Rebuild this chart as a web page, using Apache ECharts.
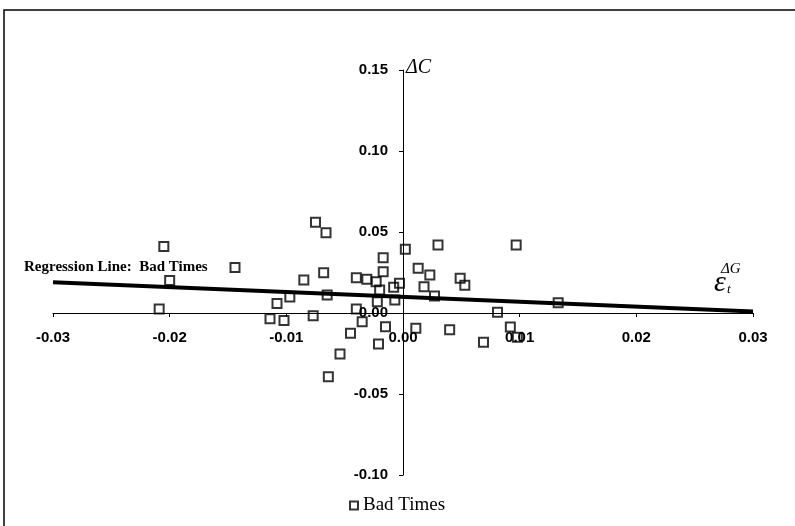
<!DOCTYPE html>
<html>
<head>
<meta charset="utf-8">
<script src="https://cdn.jsdelivr.net/npm/echarts@6/dist/echarts.min.js"></script>
<style>
  html, body { margin: 0; padding: 0; background: #fff; }
  #main { width: 795px; height: 526px; }
</style>
</head>
<body>
<div id="main"></div>
<script>
// scatter points
var xVals = [-0.0205, -0.0144, -0.0200, -0.0209, -0.0108, -0.0114, -0.0102, -0.0097,
  0.0081, 0.0092, 0.0098, 0.0097, 0.0133, 0.0069, 0.0040, 0.0049, 0.0053,
  -0.0075, -0.0066, 0.0002, 0.0030, -0.0017, -0.0017, -0.0068, -0.0085, -0.0040,
  -0.0031, -0.0023, -0.0020, -0.0008, -0.0003, 0.0013, 0.0023, 0.0018, 0.0027,
  -0.0065, -0.0077, -0.0022, -0.0007, -0.0040, -0.0035, -0.0045, -0.0015, 0.0011,
  -0.0021, -0.0054, -0.0064];
var yVals = [0.0410, 0.0281, 0.0201, 0.0025, 0.0058, -0.0035, -0.0046, 0.0099,
  0.0004, -0.0087, -0.0149, 0.0420, 0.0064, -0.0180, -0.0104, 0.0214, 0.0172,
  0.0560, 0.0496, 0.0393, 0.0420, 0.0341, 0.0255, 0.0249, 0.0204, 0.0218,
  0.0208, 0.0193, 0.0142, 0.0159, 0.0183, 0.0276, 0.0235, 0.0162, 0.0105,
  0.0111, -0.0017, 0.0070, 0.0080, 0.0025, -0.0054, -0.0125, -0.0085, -0.0094,
  -0.0191, -0.0253, -0.0393];
// regression line ends
var lineX = [-0.03, 0.03];
var lineY = [0.019, 0.001];

var xMin = -0.03, xMax = 0.03, yMin = -0.10, yMax = 0.15;

var pts = [];
for (var i = 0; i < xVals.length; i++) pts.push([xVals[i], yVals[i]]);
var linePts = [[lineX[0], lineY[0]], [lineX[1], lineY[1]]];

var serif = '"Liberation Serif", "DejaVu Serif", serif';
var sans = '"Liberation Sans", Arial, sans-serif';

// grid box, axes moved to cross at zero (onZero does not carry the labels)
var gLeft = 53, gRight = 42, gTop = 70, gBottom = 51;
var gW = 795 - gLeft - gRight, gH = 526 - gTop - gBottom;
var yOff = -gW * (0 - xMin) / (xMax - xMin);
var xOff = -gH * (0 - yMin) / (yMax - yMin);

var chart = echarts.init(document.getElementById('main'));

var option = {
  animation: false,
  backgroundColor: '#fff',
  grid: { left: gLeft, right: gRight, top: gTop, bottom: gBottom },
  xAxis: {
    type: 'value', min: xMin, max: xMax, interval: 0.01,
    offset: xOff,
    splitLine: { show: false },
    axisLine: { onZero: false, lineStyle: { color: '#000', width: 1 } },
    axisTick: { length: 4, lineStyle: { color: '#000' } },
    axisLabel: {
      margin: 17, color: '#000', fontFamily: sans, fontSize: 15, fontWeight: 'bold',
      formatter: function (v) { return v.toFixed(2); }
    }
  },
  yAxis: {
    type: 'value', min: yMin, max: yMax, interval: 0.05,
    offset: yOff,
    splitLine: { show: false },
    axisLine: { onZero: false, lineStyle: { color: '#000', width: 1 } },
    axisTick: { length: 4, lineStyle: { color: '#000' } },
    axisLabel: {
      margin: 15, color: '#000', fontFamily: sans, fontSize: 15, fontWeight: 'bold',
      formatter: function (v) { return v.toFixed(2); }
    }
  },
  legend: {
    data: ['Bad Times'],
    left: 344, top: 491,
    itemWidth: 8, itemHeight: 8, itemGap: 5,
    textStyle: { fontFamily: serif, fontSize: 19, color: '#000' }
  },
  graphic: [
    { type: 'rect', shape: { x: 4, y: 10, width: 900, height: 600 }, style: { fill: 'none', stroke: '#000', lineWidth: 1.5 }, silent: true },
    { type: 'text', left: 24, top: 260, style: { text: 'Regression Line:  Bad Times', font: 'bold 15px ' + serif, fill: '#000' } },
    { type: 'text', left: 406, top: 58, style: { text: 'ΔC', font: 'italic 20px ' + serif, fill: '#000' } },
    { type: 'text', left: 714, top: 268, style: { text: 'ε', font: 'italic 30px ' + serif, fill: '#000' } },
    { type: 'text', left: 721, top: 262, style: { text: 'ΔG', font: 'italic 15px ' + serif, fill: '#000' } },
    { type: 'text', left: 727, top: 283, style: { text: 't', font: 'italic 13px ' + serif, fill: '#000' } }
  ],
  series: [
    {
      name: 'Regression Line',
      type: 'line',
      data: linePts,
      symbol: 'none',
      lineStyle: { color: '#000', width: 4 },
      z: 2
    },
    {
      name: 'Bad Times',
      type: 'scatter',
      data: pts,
      symbol: 'rect',
      symbolSize: 9,
      itemStyle: { color: 'rgba(255,255,255,0)', borderColor: '#000', borderWidth: 2 },
      z: 3
    }
  ]
};
chart.setOption(option);
</script>
</body>
</html>
